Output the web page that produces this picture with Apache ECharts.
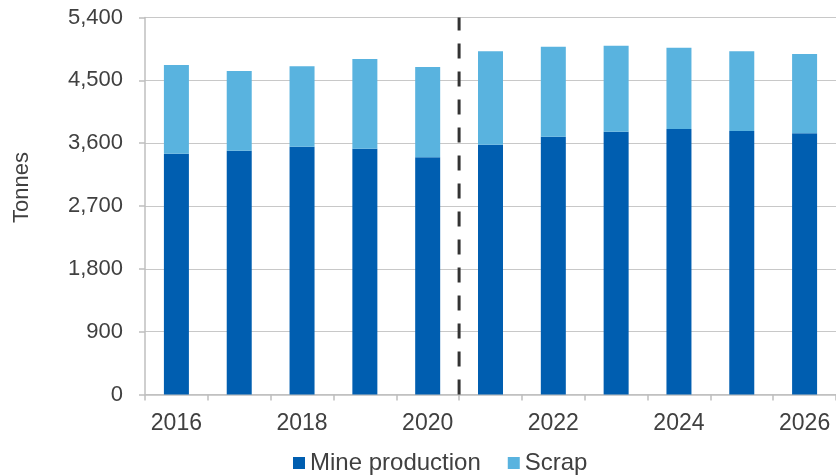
<!DOCTYPE html>
<html>
<head>
<meta charset="utf-8">
<script src="https://cdn.jsdelivr.net/npm/echarts@6/dist/echarts.min.js"></script>
<style>html,body{margin:0;padding:0;background:#fff}#c{width:836px;height:475px}</style>
</head>
<body>
<div id="c"></div>
<script>
const categories = ['2016','2017','2018','2019','2020','2021','2022','2023','2024','2025','2026'];
const mineProduction = [3449, 3492, 3550, 3521, 3397, 3578, 3693, 3764, 3803, 3774, 3741];
const scrap = [1271, 1142, 1151, 1285, 1294, 1338, 1289, 1232, 1165, 1142, 1136];
const yTicks = [0, 900, 1800, 2700, 3600, 4500, 5400];
const dividerAt = 5; // boundary between 2020 and 2021 (category index)

const textColor = '#404040';
const font = 'Liberation Sans, Arial, sans-serif';
const chart = echarts.init(document.getElementById('c'), null, {renderer: 'canvas'});
chart.setOption({
  animation: false,
  grid: {left: 145, width: 695, top: 17.5, height: 377, containLabel: false},
  legend: {
    left: 293, top: 451, padding: 0, itemWidth: 12, itemHeight: 12, itemGap: 27,
    icon: 'rect',
    textStyle: {fontFamily: font, fontSize: 24, color: textColor},
    data: ['Mine production', 'Scrap']
  },
  xAxis: [{
    type: 'category', data: categories,
    axisLine: {lineStyle: {color: '#bfbfbf', width: 1.5}},
    axisTick: {show: true, interval: 0, length: 6, lineStyle: {color: '#bfbfbf', width: 1.5}},
    axisLabel: {interval: 1, margin: 18, fontFamily: font, fontSize: 23, color: textColor}
  }, {
    type: 'value', min: 0, max: categories.length, show: false
  }],
  yAxis: {
    type: 'value', min: yTicks[0], max: yTicks[yTicks.length-1], interval: yTicks[1]-yTicks[0],
    axisLine: {show: true, lineStyle: {color: '#bfbfbf', width: 1.5}},
    axisTick: {show: true, length: 6, lineStyle: {color: '#bfbfbf', width: 1.5}},
    splitLine: {lineStyle: {color: '#c8c8c8', width: 1.2}},
    axisLabel: {margin: 22, fontFamily: font, fontSize: 22, color: textColor,
      padding: [3, 0, 0, 0],
      formatter: v => v.toLocaleString('en-US')}
  },
  graphic: [{
    type: 'text', left: 11, top: 152, rotation: Math.PI/2,
    style: {text: 'Tonnes', fontFamily: font, fontSize: 22, fill: textColor}
  }],
  series: [
    {name: 'Mine production', type: 'bar', stack: 't', data: mineProduction, barWidth: 25,
      itemStyle: {color: '#005EB0'}},
    {name: 'Scrap', type: 'bar', stack: 't', data: scrap, barWidth: 25,
      itemStyle: {color: '#59B3DF'}},
    {name: 'divider', type: 'line', xAxisIndex: 1, yAxisIndex: 0, symbol: 'none',
      data: [[dividerAt, yTicks[0]], [dividerAt, yTicks[yTicks.length-1]]],
      lineStyle: {color: '#333333', width: 3, type: [15, 13]}, z: 5}
  ]
});
</script>
</body>
</html>
